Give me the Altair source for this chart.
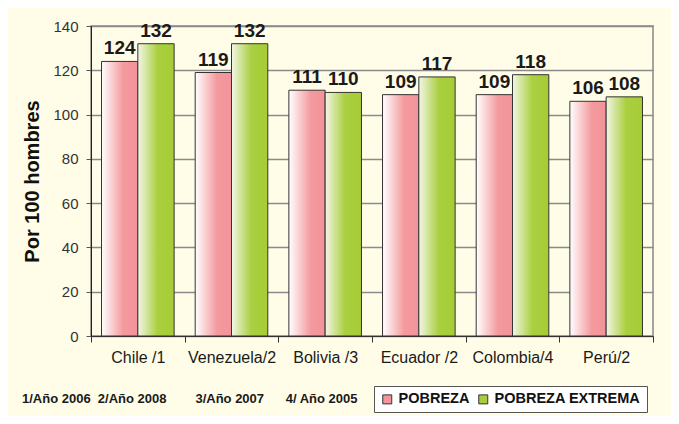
import altair as alt
import pandas as pd

countries = ["Chile /1", "Venezuela/2", "Bolivia /3", "Ecuador /2", "Colombia/4", "Perú/2"]
pobreza = [124, 119, 111, 109, 109, 106]
extrema = [132, 132, 110, 117, 118, 108]
series = ["POBREZA", "POBREZA EXTREMA"]
NB = "\u00a0"
footnote = ("1/Año 2006" + NB * 2 + "2/Año 2008" + NB * 8 + "3/Año 2007" + NB * 6 + "4/ Año 2005")

rows = []
for c, p, e in zip(countries, pobreza, extrema):
    rows.append({"pais": c, "serie": series[0], "valor": p})
    rows.append({"pais": c, "serie": series[1], "valor": e})
df = pd.DataFrame(rows)

FONT = "Liberation Sans"
PINK = "#F3959A"
GREEN = "#A8CD3A"

pink_grad = alt.Gradient(
    gradient="linear", x1=0, x2=1, y1=0, y2=0,
    stops=[alt.GradientStop(color="#FFFFFF", offset=0),
           alt.GradientStop(color="#F49A9E", offset=0.6),
           alt.GradientStop(color="#F2939A", offset=1)])
green_grad = alt.Gradient(
    gradient="linear", x1=0, x2=1, y1=0, y2=0,
    stops=[alt.GradientStop(color="#F2F6E6", offset=0),
           alt.GradientStop(color="#AACF40", offset=0.55),
           alt.GradientStop(color="#A6CC35", offset=1)])

x_enc = alt.X("pais:N", sort=countries,
              scale=alt.Scale(paddingInner=0, paddingOuter=0),
              axis=alt.Axis(title=None, labelAngle=0, tickBand="extent", tickSize=6,
                            labelPadding=7, labelFontSize=16, labelFont=FONT,
                            labelColor="#1a1a1a", domainColor="#333", tickColor="#333",
                            grid=False))
xo_enc = alt.XOffset("serie:N", scale=alt.Scale(domain=series, paddingOuter=0.29, paddingInner=0))
y_enc = alt.Y("valor:Q", scale=alt.Scale(domain=[0, 140], nice=False),
              axis=alt.Axis(values=list(range(0, 141, 20)), tickSize=5, labelPadding=8,
                            labelFontSize=15, labelFont=FONT, labelColor="#333",
                            domainColor="#222", tickColor="#555", gridColor="#8a8a8a",
                            gridWidth=1.5, title="Por 100 hombres", titleFont=FONT,
                            titleFontSize=20, titleFontWeight="bold", titleColor="#111",
                            titlePadding=10))

base = alt.Chart(df).encode(x=x_enc, xOffset=xo_enc, y=y_enc)

bars_p = base.transform_filter(alt.datum.serie == series[0]).mark_bar(
    color=pink_grad, stroke="#333", strokeWidth=1)
bars_e = base.transform_filter(alt.datum.serie == series[1]).mark_bar(
    color=green_grad, stroke="#333", strokeWidth=1)

labels = base.mark_text(baseline="bottom", dy=-3, fontSize=19, fontWeight="bold",
                        font=FONT, color="#1a1a1a").encode(text="valor:Q")

legend_layer = base.mark_square(opacity=0).encode(
    color=alt.Color("serie:N", scale=alt.Scale(domain=series, range=[PINK, GREEN]),
                    legend=alt.Legend(title=None, orient="none", legendX=283, legendY=360,
                                      direction="horizontal", symbolType="square",
                                      symbolSize=81, symbolOpacity=1,
                                      symbolStrokeColor="#333", symbolStrokeWidth=1,
                                      labelFontSize=14.5, labelFontWeight="bold",
                                      labelFont=FONT, labelColor="#111",
                                      strokeColor="#555", fillColor="#ffffff",
                                      padding=6, columnPadding=6, labelOffset=4)))

chart = alt.layer(bars_p, bars_e, labels, legend_layer).properties(
    width=562, height=310,
    title=alt.TitleParams(text=footnote, orient="bottom", anchor="start", frame="group",
                          dx=-69, dy=-32, offset=12, fontSize=13, fontWeight="bold",
                          font=FONT, color="#1a1a1a"),
    autosize=alt.AutoSizeParams(type="none"),
    padding={"left": 83, "top": 18, "right": 18, "bottom": 80},
).configure(background="#FFFDE8").configure_view(stroke="#888", strokeWidth=1.5)

chart.save("out.html", embed_options={"renderer": "svg", "actions": False})
